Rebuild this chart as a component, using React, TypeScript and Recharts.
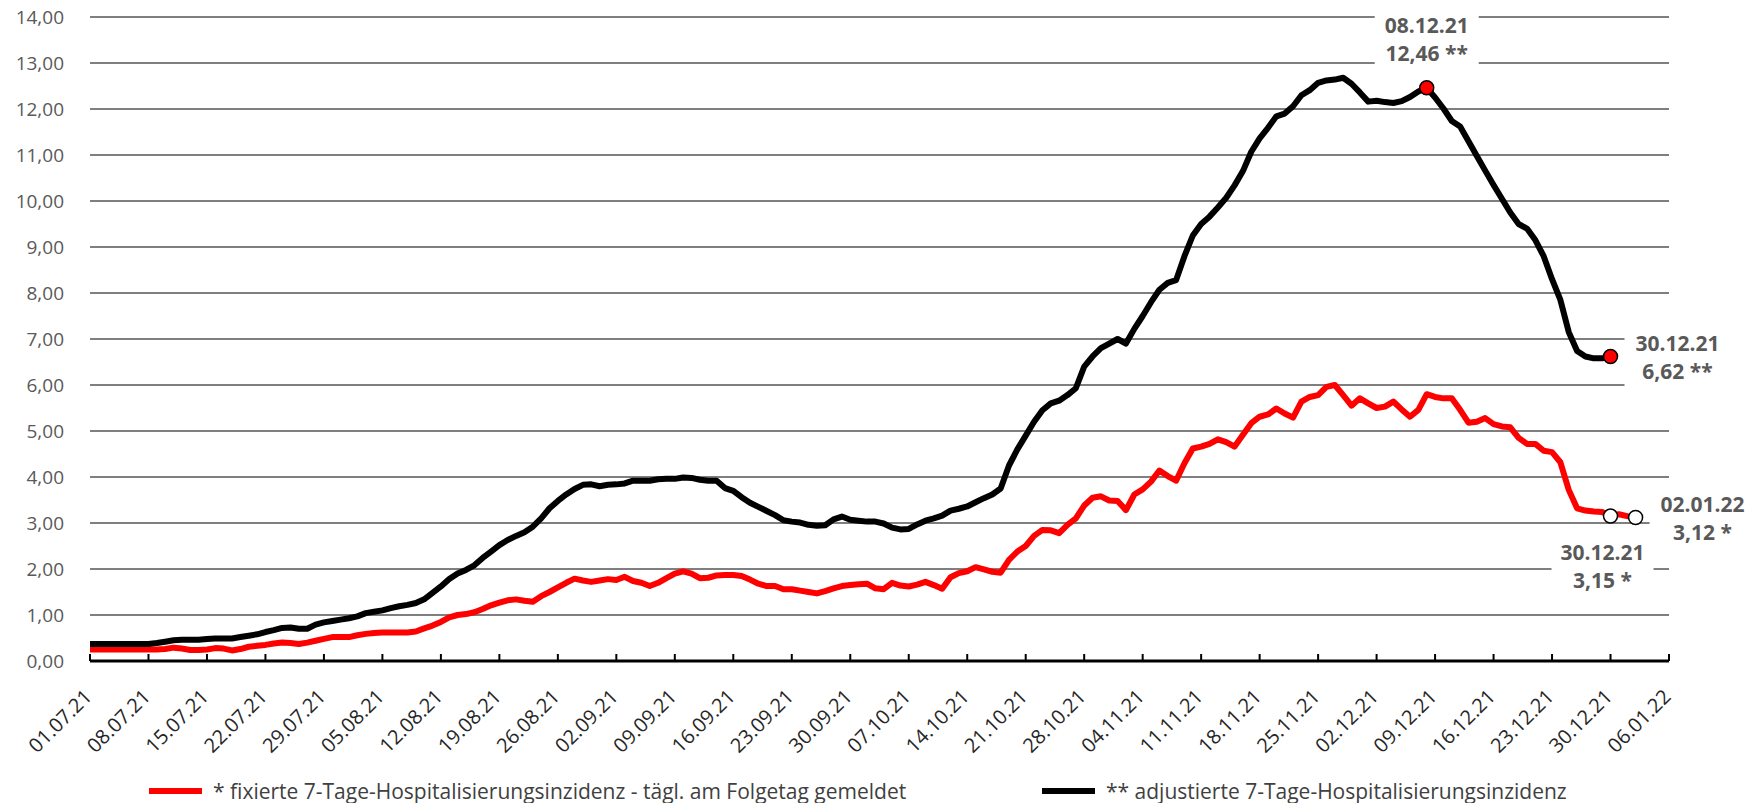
import { LineChart, Line, XAxis, YAxis, CartesianGrid, ReferenceDot } from "recharts"

const FONT = "'Open Sans', 'Liberation Sans', sans-serif"

// daily values starting 01.07.21
const fixedValues = [
  0.25, 0.25, 0.25, 0.25, 0.25, 0.25, 0.25, 0.25, 0.25, 0.26,
  0.29, 0.27, 0.24, 0.24, 0.25, 0.28, 0.27, 0.23, 0.26, 0.31,
  0.33, 0.35, 0.38, 0.40, 0.39, 0.37, 0.40, 0.44, 0.48, 0.52,
  0.52, 0.52, 0.56, 0.59, 0.61, 0.62, 0.62, 0.62, 0.62, 0.64,
  0.71, 0.77, 0.85, 0.95, 1.00, 1.02, 1.06, 1.13, 1.21, 1.27,
  1.32, 1.34, 1.31, 1.29, 1.41, 1.50, 1.60, 1.70, 1.79, 1.75,
  1.72, 1.75, 1.78, 1.76, 1.83, 1.74, 1.70, 1.63, 1.70, 1.80,
  1.90, 1.95, 1.90, 1.80, 1.81, 1.86, 1.87, 1.87, 1.85, 1.77,
  1.68, 1.63, 1.63, 1.56, 1.56, 1.53, 1.50, 1.47, 1.52, 1.58,
  1.63, 1.65, 1.67, 1.68, 1.58, 1.56, 1.70, 1.64, 1.62, 1.66,
  1.72, 1.65, 1.57, 1.82, 1.91, 1.95, 2.04, 1.99, 1.94, 1.92,
  2.20, 2.38, 2.50, 2.72, 2.85, 2.84, 2.78, 2.96, 3.10, 3.38,
  3.55, 3.58, 3.49, 3.48, 3.28, 3.62, 3.73, 3.90, 4.14, 4.02,
  3.92, 4.30, 4.62, 4.66, 4.72, 4.82, 4.76, 4.66, 4.92, 5.17,
  5.31, 5.36, 5.49, 5.38, 5.29, 5.64, 5.74, 5.78, 5.96, 6.00,
  5.78, 5.55, 5.71, 5.60, 5.50, 5.53, 5.64, 5.47, 5.31, 5.46,
  5.80, 5.74, 5.71, 5.71, 5.46, 5.18, 5.20, 5.28, 5.15, 5.10,
  5.08, 4.85, 4.72, 4.72, 4.57, 4.54, 4.32, 3.72, 3.32, 3.27,
  3.25, 3.24, 3.15, 3.19, 3.15, 3.12,
]

const adjustedValues = [
  0.37, 0.37, 0.37, 0.37, 0.37, 0.37, 0.37, 0.37, 0.39, 0.42,
  0.45, 0.46, 0.46, 0.46, 0.48, 0.49, 0.49, 0.49, 0.52, 0.55,
  0.58, 0.63, 0.67, 0.72, 0.73, 0.70, 0.70, 0.79, 0.84, 0.87,
  0.90, 0.93, 0.97, 1.04, 1.07, 1.10, 1.15, 1.19, 1.22, 1.26,
  1.34, 1.48, 1.62, 1.78, 1.90, 1.98, 2.08, 2.24, 2.38, 2.52,
  2.63, 2.72, 2.80, 2.92, 3.10, 3.32, 3.48, 3.62, 3.74, 3.83,
  3.84, 3.80, 3.83, 3.84, 3.86, 3.92, 3.92, 3.92, 3.95, 3.96,
  3.96, 3.99, 3.98, 3.94, 3.92, 3.92, 3.76, 3.70, 3.56, 3.44,
  3.35, 3.26, 3.17, 3.06, 3.03, 3.01, 2.96, 2.94, 2.95, 3.08,
  3.14, 3.07, 3.05, 3.03, 3.03, 2.99, 2.90, 2.86, 2.87, 2.97,
  3.05, 3.10, 3.16, 3.27, 3.31, 3.36, 3.45, 3.54, 3.62, 3.75,
  4.25, 4.60, 4.90, 5.20, 5.45, 5.60, 5.66, 5.78, 5.93, 6.40,
  6.62, 6.80, 6.90, 7.00, 6.90, 7.22, 7.50, 7.80, 8.07, 8.22,
  8.28, 8.80, 9.25, 9.50, 9.66, 9.86, 10.07, 10.34, 10.65, 11.07,
  11.36, 11.59, 11.84, 11.90, 12.06, 12.30, 12.41, 12.57, 12.62, 12.64,
  12.68, 12.55, 12.36, 12.16, 12.18, 12.15, 12.13, 12.17, 12.26, 12.38,
  12.46, 12.25, 12.01, 11.74, 11.62, 11.30, 10.98, 10.66, 10.35, 10.05,
  9.75, 9.50, 9.40, 9.15, 8.80, 8.30, 7.85, 7.15, 6.74, 6.62,
  6.58, 6.58, 6.62,
]

const xTicks = [
  "01.07.21", "08.07.21", "15.07.21", "22.07.21", "29.07.21", "05.08.21", "12.08.21",
  "19.08.21", "26.08.21", "02.09.21", "09.09.21", "16.09.21", "23.09.21", "30.09.21",
  "07.10.21", "14.10.21", "21.10.21", "28.10.21", "04.11.21", "11.11.21", "18.11.21",
  "25.11.21", "02.12.21", "09.12.21", "16.12.21", "23.12.21", "30.12.21", "06.01.22",
]
const yTicks = [0, 1, 2, 3, 4, 5, 6, 7, 8, 9, 10, 11, 12, 13, 14]

const seriesNames = [
  "* fixierte 7-Tage-Hospitalisierungsinzidenz - tägl. am Folgetag gemeldet",
  "** adjustierte 7-Tage-Hospitalisierungsinzidenz",
]

const fixedNotes = ["30.12.21", "02.01.22"]
const adjustedNotes = ["08.12.21", "30.12.21"]

const pad = (n: number) => String(n).padStart(2, "0")
const dates = Array.from({ length: 190 }, (_, i) => {
  const d = new Date(2021, 6, 1 + i)
  return `${pad(d.getDate())}.${pad(d.getMonth() + 1)}.${String(d.getFullYear()).slice(2)}`
})

const data = dates.map((date, i) => ({
  date,
  fixed: fixedValues[i] ?? null,
  adjusted: adjustedValues[i] ?? null,
}))

const comma = (v: number) => v.toFixed(2).replace(".", ",")

// where the two text lines sit relative to the marker
const layouts: Record<string, { tx: number; ty: number[]; box: number[] }> = {
  top: { tx: 0, ty: [-63, -35], box: [-52, -82, 104, 64] },
  right: { tx: 67, ty: [-13, 15], box: [14, -34, 104, 74] },
  below: { tx: -8, ty: [36, 64], box: [-59, 18, 102, 62] },
}

const Marker = ({ cx, cy, fill, lines, pos }: any) => {
  const l = layouts[pos]
  return (
    <g>
      <rect x={cx + l.box[0]} y={cy + l.box[1]} width={l.box[2]} height={l.box[3]} fill="#fff"/>
      {lines.map((t: string, i: number) => (
        <text key={i} x={cx + l.tx} y={cy + l.ty[i]} textAnchor="middle" dominantBaseline="central"
          fontFamily={FONT} fontSize={21} fontWeight={700} fill="#595959">{t}</text>
      ))}
      <circle cx={cx} cy={cy} r={7} fill={fill} stroke="#000" strokeWidth={1.5}/>
    </g>
  )
}

const DateTick = ({ x, y, payload }: any) => (
  <g>
    <line x1={x} x2={x} y1={y} y2={y - 7} stroke="#000" strokeWidth={2}/>
    <text x={x + 3} y={y + 37} transform={`rotate(-45 ${x + 3} ${y + 37})`} textAnchor="end"
      fontFamily={FONT} fontSize={20} fill="#262626">{payload.value}</text>
  </g>
)

const legendRow = {
  position: "absolute" as const, top: 782, display: "flex", alignItems: "center",
  fontFamily: FONT, fontSize: 21, lineHeight: "24px", color: "#404040", whiteSpace: "nowrap" as const,
}

export default function App() {
  return (
    <div style={{ position: "relative", width: 1740, height: 806, marginTop: -11 }}>
      <LineChart width={1740} height={771} data={data} margin={{ top: 20, right: 79, left: 0, bottom: 0 }}>
        <CartesianGrid vertical={false} stroke="#7f7f7f" strokeWidth={2}/>
        <XAxis dataKey="date" ticks={xTicks} interval={0} height={107}
          tick={<DateTick/>} tickLine={false} tickSize={0} tickMargin={0}
          axisLine={{ stroke: "#000", strokeWidth: 3 }}/>
        <YAxis domain={[0, 14]} ticks={yTicks} width={82} tickFormatter={comma}
          axisLine={false} tickLine={false} tickSize={0} tickMargin={26}
          tick={{ fontSize: 19, fill: "#595959", fontFamily: FONT }}/>
        <Line dataKey="fixed" stroke="#ff0000" strokeWidth={6} dot={false} type="linear"
          strokeLinejoin="round" isAnimationActive={false} connectNulls={false}/>
        <Line dataKey="adjusted" stroke="#000" strokeWidth={6} dot={false} type="linear"
          strokeLinejoin="round" isAnimationActive={false} connectNulls={false}/>
        {adjustedNotes.map((d, i) => {
          const v = adjustedValues[dates.indexOf(d)]
          return <ReferenceDot key={"a" + d} x={d} y={v} r={7}
            shape={(p: any) => <Marker {...p} fill="#ff0000" pos={i === 0 ? "top" : "right"}
              lines={[d, `${comma(v)} **`]}/>}/>
        })}
        {fixedNotes.map((d, i) => {
          const v = fixedValues[dates.indexOf(d)]
          return <ReferenceDot key={"f" + d} x={d} y={v} r={7}
            shape={(p: any) => <Marker {...p} fill="#fff" pos={i === 0 ? "below" : "right"}
              lines={[d, `${comma(v)} *`]}/>}/>
        })}
      </LineChart>
      <div style={{ ...legendRow, left: 141 }}>
        <span style={{ width: 53, height: 6, background: "#ff0000", marginRight: 11 }}/>
        <span>{seriesNames[0]}</span>
      </div>
      <div style={{ ...legendRow, left: 1034 }}>
        <span style={{ width: 53, height: 6, background: "#000", marginRight: 11 }}/>
        <span>{seriesNames[1]}</span>
      </div>
    </div>
  )
}
